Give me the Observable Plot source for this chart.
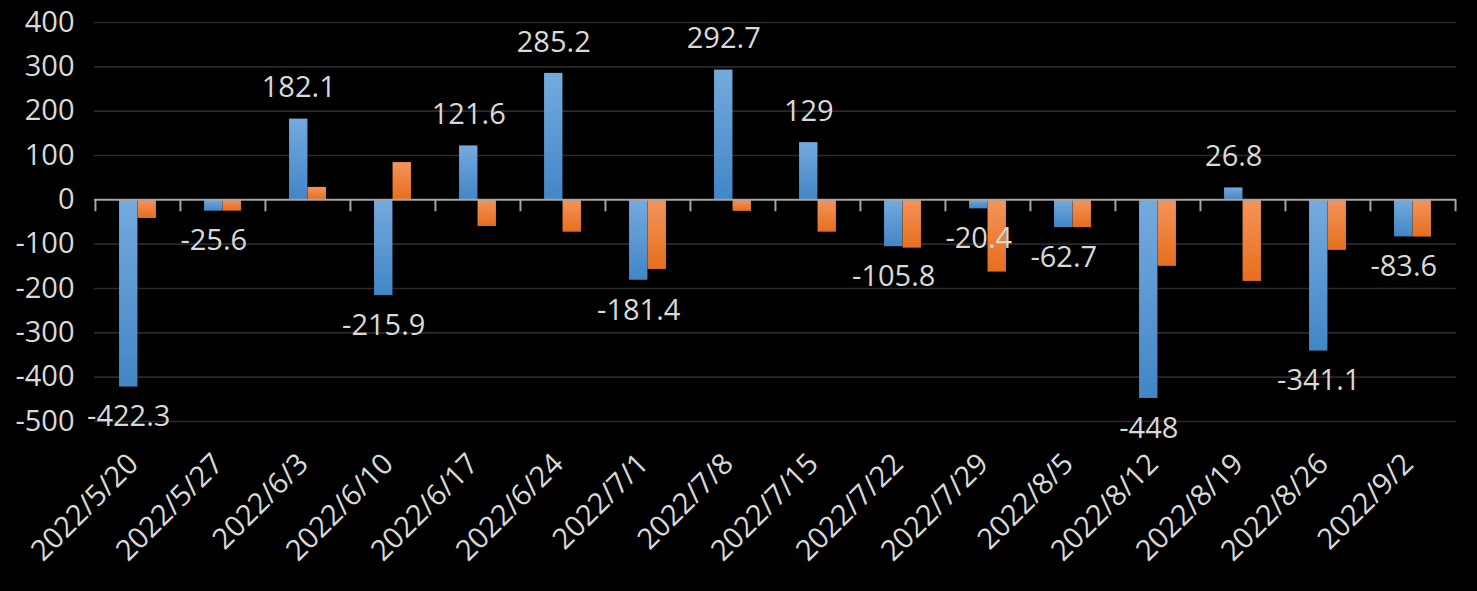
<!DOCTYPE html>
<html>
<head>
<meta charset="utf-8">
<script src="https://cdn.jsdelivr.net/npm/d3@7"></script>
<script src="https://cdn.jsdelivr.net/npm/@observablehq/plot@0.6"></script>
<style>
  html, body { margin: 0; padding: 0; background: #000; }
  #chart { width: 1477px; height: 591px; }
</style>
</head>
<body>
<div id="chart"></div>
<script>
const dates = ["2022/5/20","2022/5/27","2022/6/3","2022/6/10","2022/6/17","2022/6/24","2022/7/1","2022/7/8","2022/7/15","2022/7/22","2022/7/29","2022/8/5","2022/8/12","2022/8/19","2022/8/26","2022/9/2"];
const blueValues = [-422.3, -25.6, 182.1, -215.9, 121.6, 285.2, -181.4, 292.7, 129, -105.8, -20.4, -62.7, -448, 26.8, -341.1, -83.6];
const orangeValues = [-42, -25.6, 28, 84, -60, -73, -157, -26, -73, -109, -163, -62.7, -150, -184, -114, -84];
const yTicks = [-500, -400, -300, -200, -100, 0, 100, 200, 300, 400];

const W = 1477, H = 591;
const mL = 94, mR = 21, mT = 22, mB = 170;
const bw = (W - mL - mR) / dates.length;
const barW = 18.5;
const textColor = "#d9d9d9";
const font = "'Open Sans', 'Noto Sans CJK TC', sans-serif";

const blue = dates.map((d, i) => ({date: d, value: blueValues[i]}));
const orange = dates.map((d, i) => ({date: d, value: orangeValues[i]}));

const chart = Plot.plot({
  width: W,
  height: H,
  marginLeft: mL,
  marginRight: mR,
  marginTop: mT,
  marginBottom: mB,
  style: {background: "#000", color: textColor, fontSize: "29px", fontFamily: font},
  x: {domain: dates, padding: 0, axis: null},
  y: {domain: [-500, 400], ticks: yTicks, tickSize: 0, tickPadding: 20, label: null, tickFormat: d => String(d)},
  marks: [
    Plot.ruleY(yTicks.filter(t => t !== 0), {stroke: "#2a2a2a", strokeWidth: 1.6}),
    Plot.barY(blue, {x: "date", y: "value", fill: "url(#gradBlue)", insetLeft: bw / 2 - barW, insetRight: bw / 2}),
    Plot.barY(orange, {x: "date", y: "value", fill: "url(#gradOrange)", insetLeft: bw / 2, insetRight: bw / 2 - barW}),
    Plot.ruleY([0], {stroke: "#a6a6a6", strokeWidth: 2}),
    Plot.ruleX(dates, {x: d => d, y1: 0, y2: -27, dx: -bw / 2, stroke: "#a6a6a6", strokeWidth: 2}),
    Plot.ruleX(dates.slice(-1), {x: d => d, y1: 0, y2: -27, dx: bw / 2, stroke: "#a6a6a6", strokeWidth: 2}),
    Plot.text(blue.filter(d => d.value >= 0), {x: "date", y: "value", text: d => String(d.value), dx: -barW / 2, dy: -31, fill: textColor, fontSize: 29}),
    Plot.text(blue.filter(d => d.value < 0), {x: "date", y: "value", text: d => String(d.value), dx: -barW / 2, dy: 30, fill: textColor, fontSize: 29}),
    Plot.text(dates, {x: d => d, frameAnchor: "bottom", text: d => d, rotate: -45, textAnchor: "end", dy: 44, dx: 2, fill: textColor, fontSize: 29})
  ]
});

const defs = d3.select(chart).insert("defs", ":first-child");
const gb = defs.append("linearGradient").attr("id", "gradBlue").attr("x1", 0).attr("y1", 0).attr("x2", 0).attr("y2", 1);
gb.append("stop").attr("offset", "0%").attr("stop-color", "#75aade");
gb.append("stop").attr("offset", "100%").attr("stop-color", "#4286c6");
const go = defs.append("linearGradient").attr("id", "gradOrange").attr("x1", 0).attr("y1", 0).attr("x2", 0).attr("y2", 1);
go.append("stop").attr("offset", "0%").attr("stop-color", "#f4945c");
go.append("stop").attr("offset", "100%").attr("stop-color", "#e66f1c");

document.getElementById("chart").appendChild(chart);
</script>
</body>
</html>
